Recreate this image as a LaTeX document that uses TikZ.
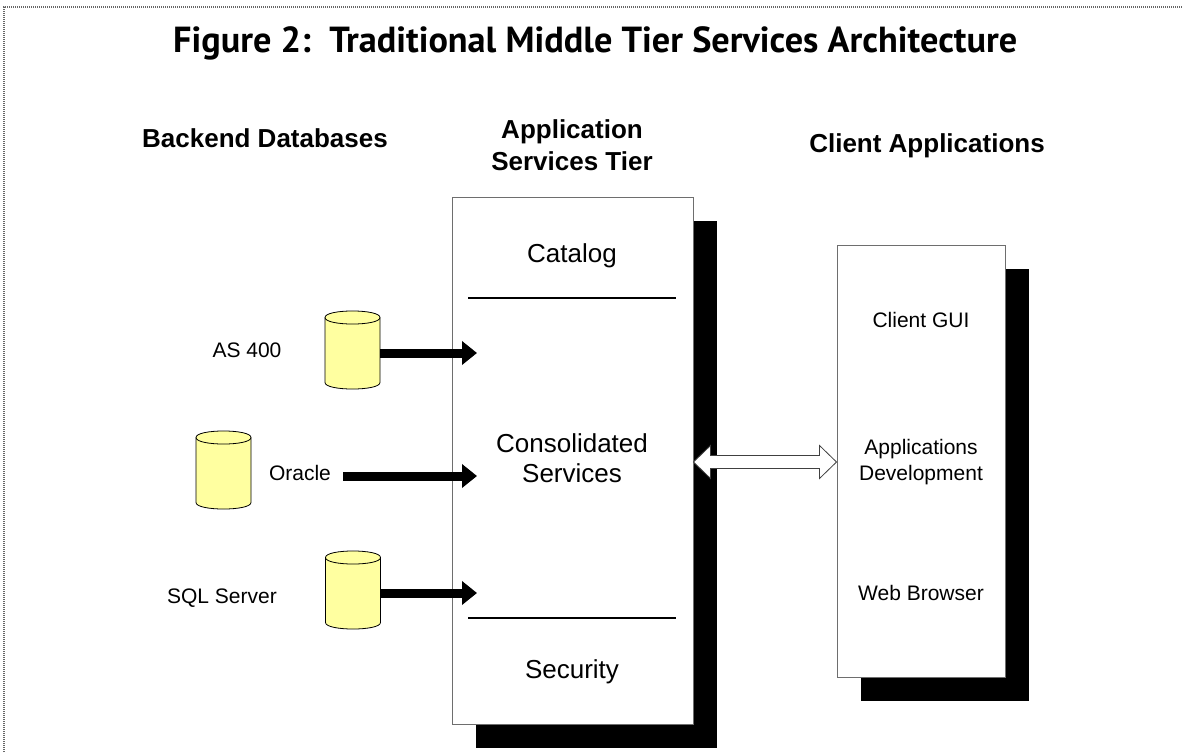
\documentclass[tikz,border=0pt]{standalone}
\usepackage{fontspec}
\setmainfont{Liberation Sans}
\newfontfamily\titlefont{PT Sans}
\usetikzlibrary{arrows.meta,calc,shadows}
\definecolor{dbyellow}{RGB}{255,255,160}
\definecolor{boxline}{RGB}{110,110,110}
\newcommand\dbcyl[3]{%
  \node[minimum width=55pt, minimum height=78pt] (#1) at (#2,#3) {};
  \filldraw[dbshape] (#2-27.5,#3-32.5) -- (#2-27.5,#3+32.5)
     .. controls (#2-27.5,#3+41.2) and (#2+27.5,#3+41.2) .. (#2+27.5,#3+32.5)
     -- (#2+27.5,#3-32.5)
     .. controls (#2+27.5,#3-41.2) and (#2-27.5,#3-41.2) .. (#2-27.5,#3-32.5) -- cycle;
  \draw[dbshape, fill=none] (#2-27.5,#3-32.5)
     .. controls (#2-27.5,#3-23.8) and (#2+27.5,#3-23.8) .. (#2+27.5,#3-32.5);
}
\begin{document}
\begin{tikzpicture}[x=1pt,y=-1pt,
  every node/.style={inner sep=0pt},
  hdr/.style={font=\fontsize{26}{31}\selectfont\bfseries, anchor=base},
  big/.style={font=\fontsize{26}{31}\selectfont, anchor=base},
  small/.style={font=\fontsize{21}{25}\selectfont, anchor=base},
  tierbox/.style={draw=boxline, line width=1pt, fill=white,
     drop shadow={shadow xshift=24pt, shadow yshift=-24pt, fill=black, opacity=1}},
  divider/.style={line width=1.5pt, black},
  fatarrow/.style={line width=9pt, -{Triangle[length=15pt,width=23pt]}},
  dbshape/.style={draw=black, line width=0.8pt, fill=dbyellow},
  hollowarrow/.style={draw=black!75, line width=0.8pt, fill=white, line join=miter}
]
\path[use as bounding box, fill=white] (0,0) rectangle (1182,752);
\draw[black!60, line width=1.2pt, dash pattern=on 1pt off 1pt] (4,752) -- (4,7) -- (1182,7);

\node[anchor=base west, font=\titlefont\bfseries\fontsize{28}{32}\selectfont] (title) at (173,53)
  {\resizebox{844pt}{!}{Figure 2:\ \ Traditional Middle Tier Services Architecture}};

\node[hdr] (backend) at (265,147) {Backend Databases};
\node[hdr] (apptier1) at (572,138) {Application};
\node[hdr] (apptier2) at (572,170) {Services Tier};
\node[hdr] (clientapps) at (927,152) {Client Applications};

\node[tierbox, minimum width=241pt, minimum height=527pt] (midbox) at (572.5,460.5) {};
\node[tierbox, minimum width=168pt, minimum height=432pt] (clientbox) at (921,461) {};

\node[big] (catalog) at (572,262) {Catalog};
\draw[divider] (468,298) -- (676,298);
\node[big] (consol1) at (572,452) {Consolidated};
\node[big] (consol2) at (572,482) {Services};
\draw[divider] (468,618) -- (676,618);
\node[big] (security) at (572,678) {Security};

\node[small] (gui) at (921,327) {Client GUI};
\node[small] (appdev1) at (921,454) {Applications};
\node[small] (appdev2) at (921,480) {Development};
\node[small] (web) at (921,600) {Web Browser};

\dbcyl{as400}{352.5}{350}
\dbcyl{oracle}{223.5}{470}
\dbcyl{sqlsrv}{353}{590}

\node[small] (as400lbl) at (247,357) {AS 400};
\node[small] (oraclelbl) at (300,480) {Oracle};
\node[small] (sqllbl) at (222,603) {SQL Server};

\coordinate (dy) at (0,462);
\coordinate (dA) at (midbox.east |- dy);
\coordinate (dB) at (clientbox.west |- dy);
\draw[hollowarrow] (dA) -- ($(dA)+(17,-16.5)$) -- ($(dA)+(17,-6.5)$) -- ($(dB)+(-17,-6.5)$)
  -- ($(dB)+(-17,-16.5)$) -- (dB) -- ($(dB)+(-17,16.5)$) -- ($(dB)+(-17,6.5)$)
  -- ($(dA)+(17,6.5)$) -- ($(dA)+(17,16.5)$) -- cycle;

\coordinate (t1) at (477,353);
\coordinate (t2) at (477,476);
\coordinate (t3) at (477,593);
\coordinate (o1) at ([xshift=12pt]oraclelbl.east);
\draw[fatarrow] (as400.east |- t1) -- (t1);
\draw[fatarrow] (o1 |- t2) -- (t2);
\draw[fatarrow] (sqlsrv.east |- t3) -- (t3);
\end{tikzpicture}
\end{document}
